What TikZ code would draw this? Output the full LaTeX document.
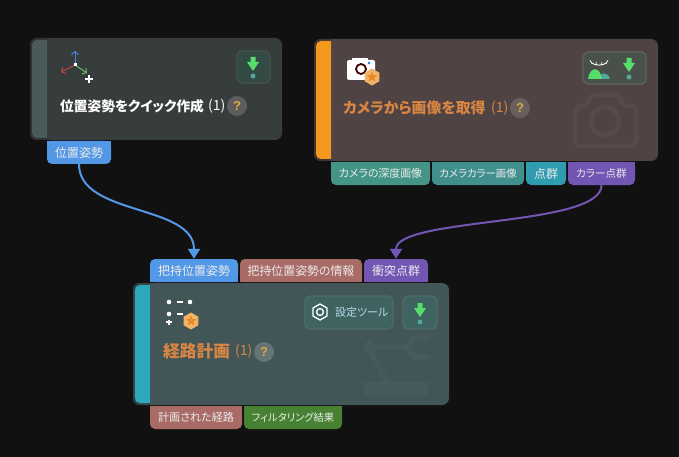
\documentclass[tikz,border=0pt]{standalone}
\usepackage{fontspec}
\setmainfont{Liberation Sans}
\newfontfamily\jp[RawFeature=+palt]{Noto Sans CJK JP}
\usetikzlibrary{arrows.meta,shapes.geometric}
\definecolor{bgc}{HTML}{111111}
\definecolor{tblue}{HTML}{5398E6}
\definecolor{tteal}{HTML}{449488}
\definecolor{tteal2}{HTML}{41908E}
\definecolor{tcyan}{HTML}{309CB0}
\definecolor{tpurple}{HTML}{7355B3}
\definecolor{tpink}{HTML}{A96B66}
\definecolor{tgreen}{HTML}{468232}
\definecolor{dlgreen}{HTML}{57DD6A}
\definecolor{dlteal}{HTML}{4FA89A}
\definecolor{qmark}{HTML}{D6A94A}
\definecolor{titleor}{HTML}{D98544}
\definecolor{cardA}{HTML}{373C3C}
\definecolor{rimA}{HTML}{2E3332}
\definecolor{stripA}{HTML}{4A5A58}
\definecolor{cardB}{HTML}{504343}
\definecolor{rimB}{HTML}{3E3433}
\definecolor{stripB}{HTML}{F39A1E}
\definecolor{cardC}{HTML}{425557}
\definecolor{rimC}{HTML}{354446}
\definecolor{stripC}{HTML}{2FA8BB}
\definecolor{btnAf}{HTML}{344A45}
\definecolor{btnAd}{HTML}{45544F}
\definecolor{btnBf}{HTML}{49504A}
\definecolor{btnBd}{HTML}{5C6460}
\definecolor{btnCf}{HTML}{3F6360}
\definecolor{btnCd}{HTML}{4F6B69}
\definecolor{qA}{HTML}{5D5D5B}
\definecolor{qB}{HTML}{6B5F5D}
\definecolor{qC}{HTML}{667573}
\definecolor{markB}{HTML}{564A4C}
\definecolor{markC}{HTML}{475B5E}
\definecolor{hexc}{HTML}{F0B56A}
\definecolor{starc}{HTML}{E88A25}
\definecolor{axisb}{HTML}{4A86D8}
\definecolor{axisr}{HTML}{C04848}
\definecolor{axisg}{HTML}{60C060}
\tikzset{
 x=1pt,y=-1pt,
 tagtext/.style={inner sep=0pt,text=white!92!black,font=\jp\fontsize{12}{12}\selectfont},
 titletext/.style={inner sep=0pt,anchor=west},
 counttext/.style={inner sep=0pt,anchor=west,font=\jp\fontsize{14}{14}\selectfont},
 qcircle/.style={circle,minimum size=20pt,inner sep=0pt,text=qmark,font=\bfseries\fontsize{13}{14}\selectfont},
 btn/.style={rounded corners=5pt,line width=1.3pt},
 wire/.style={line width=2pt,-{Triangle[width=12pt,length=10pt]}},
 axisarrow/.style={line width=1pt,-{Straight Barb[length=3pt,width=7pt]}},
}
% x1 x2 y1 y2 body rim strip
\newcommand\cardshape[7]{%
 \fill[#5,rounded corners=7pt] (#1,#3) rectangle (#2,#4);
 \begin{scope}
  \clip (#1,#3) rectangle ({#1+17},#4);
  \fill[#6,rounded corners=7pt] (#1,#3) rectangle (#2,#4);
  \fill[#7,rounded corners=5pt] ({#1+2},{#3+2}) rectangle (#2,{#4-2});
 \end{scope}}
% x1 x2 y1 y2 colour name text
\newcommand\tagdown[7]{%
 \fill[#5,rounded corners=5pt] (#1,#3) rectangle (#2,#4);
 \fill[#5] (#1,#3) rectangle (#2,{(#3+#4)/2});
 \node[tagtext,minimum width={(#2-#1)*1pt},minimum height={(#4-#3)*1pt}] (#6) at ({(#1+#2)/2},{(#3+#4)/2}) {#7};}
\newcommand\tagup[7]{%
 \fill[#5,rounded corners=5pt] (#1,#3) rectangle (#2,#4);
 \fill[#5] (#1,{(#3+#4)/2}) rectangle (#2,#4);
 \node[tagtext,minimum width={(#2-#1)*1pt},minimum height={(#4-#3)*1pt}] (#6) at ({(#1+#2)/2},{(#3+#4)/2}) {#7};}
\newcommand\fs[1]{\fontsize{#1}{12}\selectfont}
% cx y0
\newcommand\dlicon[2]{%
 \fill[dlgreen] ({#1-2.5},#2) -- ({#1+2.5},#2) -- ({#1+2.5},{#2+5}) -- ({#1+6},{#2+5}) -- (#1,{#2+14}) -- ({#1-6},{#2+5}) -- ({#1-2.5},{#2+5}) -- cycle;
 \fill[dlteal] (#1,{#2+19}) circle (2.5);}
% cx cy : hexagon badge with star
\newcommand\badge[2]{%
 \fill[hexc] (#1,{#2-8.5}) -- ({#1+7.4},{#2-4.2}) -- ({#1+7.4},{#2+4.2}) -- (#1,{#2+8.5}) -- ({#1-7.4},{#2+4.2}) -- ({#1-7.4},{#2-4.2}) -- cycle;
 \node[star,star points=5,star point ratio=2.2,fill=starc,minimum size=11pt,inner sep=0pt] at (#1,#2) {};}
\begin{document}
\begin{tikzpicture}
\useasboundingbox (0,0) rectangle (679,457);
\fill[bgc] (0,0) rectangle (679,457);

% ---- card 1
\cardshape{30}{282}{38}{140}{cardA}{rimA}{stripA}
\draw[axisarrow,axisb] (75,65) -- (75,51);
\draw[axisarrow,axisr] (75,65) -- (61,72);
\draw[axisarrow,axisg] (75,65) -- (87,73);
\fill[white] (73.5,63.5) rectangle (76.5,66.5);
\draw[white,line width=2pt] (85,79) -- (93,79) (89,75) -- (89,83);
\node[titletext,text=white,font=\jp\bfseries\fontsize{13.7}{14}\selectfont] (titleA) at (60,106) {位置姿勢をクイック作成};
\node[counttext,text=white] (countA) at (208,106) {(1)};
\node[qcircle,fill=qA] (helpA) at (237,106) {?};
\draw[btn,fill=btnAf,draw=btnAd] (237,51) rectangle (270,83);
\dlicon{253}{57}

% ---- card 2
\cardshape{314}{658}{39}{161}{cardB}{rimB}{stripB}
% camera watermark
\draw[markB,line width=4.5pt,line join=round,rounded corners=5pt] (575,146) -- (575,106) -- (588,106) -- (590,95) -- (620,95) -- (622,106) -- (636,106) -- (636,146) -- cycle;
\draw[markB,line width=4.5pt] (605,121) circle (14);
% camera icon
\fill[white] (352,58) rectangle (368,62);
\fill[white,rounded corners=2pt] (347,60) rectangle (375,80);
\draw[black!75!red,line width=1.8pt] (361,69) circle (5);
\fill[blue!50!cyan] (369,63) circle (1.3);
\badge{372}{77}
\node[titletext,text=titleor,font=\jp\bfseries\fontsize{14.9}{15}\selectfont] (titleB) at (343,108) {カメラから画像を取得};
\node[counttext,text=titleor] (countB) at (491,108) {(1)};
\node[qcircle,fill=qB] (helpB) at (520,108) {?};
\draw[btn,fill=btnBf,draw=btnBd] (583,52) rectangle (646,84);
% eye and hills
\fill[dlteal] (598,79) .. controls (601,72) and (607,71) .. (610,79) -- cycle;
\fill[dlgreen] (588,79) .. controls (590,66) and (600,66) .. (602,79) -- cycle;
\draw[white,line width=.9pt] (591,62.5) .. controls (595,66) and (603,66) .. (607,62.5);
\draw[white,line width=.7pt] (590,60) -- (592,63.5) (596,62) -- (596.5,65) (602,62) -- (601.5,65) (608,60) -- (606,63.5);
\dlicon{629}{58}

% ---- card 3
\cardshape{133}{449}{283}{405}{cardC}{rimC}{stripC}
% robot watermark
\fill[markC] (364,382) rectangle (428,395);
\draw[markC,line width=5pt,line cap=round,line join=round] (369,347) -- (387,382) (369,347) -- (405,347) -- (415,337) -- (428,337) (405,347) -- (415,357) -- (428,357);
\fill[markC] (369,347) circle (6);
% path icon
\fill[white] (169,302) circle (2.3) (190,302) circle (2.3) (169,314) circle (2.3);
\draw[white,line width=1.2pt] (177,302) -- (183,302) (177,314) -- (183,314) (166,322) -- (172,322) (169,319.5) -- (169,324.5);
\badge{191}{321}
\node[titletext,text=titleor,font=\jp\bfseries\fontsize{16.7}{17}\selectfont] (titleC) at (163,351) {経路計画};
\node[counttext,text=titleor] (countC) at (235,351) {(1)};
\node[qcircle,fill=qC] (helpC) at (264,352) {?};
\draw[btn,fill=btnCf,draw=btnCd] (305,296) rectangle (393,329);
\node[regular polygon,regular polygon sides=6,shape border rotate=30,draw=white,line width=1.3pt,minimum size=16pt,inner sep=0pt] (gear) at (320,312) {};
\draw[white,line width=1.3pt] (320,312) circle (3.4);
\node[inner sep=0pt,anchor=west,text=white!75!cyan!90!black,font=\jp\fontsize{11}{12}\selectfont] (toolC) at (335,312) {設定ツール};
\draw[btn,fill=btnCf,draw=btnCd] (403,296) rectangle (437,329);
\dlicon{420}{303}

% ---- tags
\tagdown{47}{111}{141}{164}{tblue}{outA}{位置姿勢}
\tagdown{331}{430}{162}{185}{tteal}{outB}{\fs{10.9}カメラの深度画像}
\tagdown{432}{524}{162}{185}{tteal2}{outC}{\fs{10.4}カメラカラー画像}
\tagdown{526}{566}{162}{185}{tcyan}{outD}{点群}
\tagdown{568}{635}{162}{185}{tpurple}{outE}{\fs{10.6}カラー点群}
\tagup{150}{238}{259}{282}{tblue}{inA}{把持位置姿勢}
\tagup{240}{362}{259}{282}{tpink}{inB}{\fs{11.9}把持位置姿勢の情報}
\tagup{364}{428}{259}{282}{tpurple}{inC}{衝突点群}
\tagdown{150}{242}{406}{429}{tpink}{outF}{\fs{11.1}計画された経路}
\tagdown{244}{342}{406}{429}{tgreen}{outG}{\fs{10.3}フィルタリング結果}

% ---- connectors
\draw[wire,tblue] (outA.south) .. controls +(0,52) and +(0,-55) .. (inA.north);
\draw[wire,tpurple] (outE.south) .. controls +(0,42) and +(0,-42) .. (inC.north);
\end{tikzpicture}
\end{document}
